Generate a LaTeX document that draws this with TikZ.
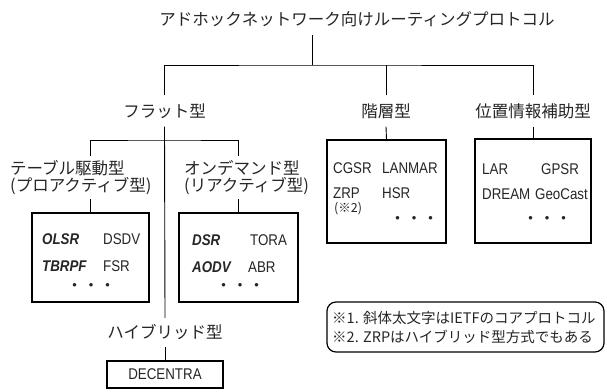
\documentclass[tikz,border=0pt]{standalone}
\usepackage{fontspec}
\setmainfont{Liberation Sans}
\newfontfamily\lat[FakeStretch=0.86]{Liberation Sans}
\newfontfamily\jp{Noto Sans CJK JP}
\begin{document}
\begin{tikzpicture}[x=1pt,y=-1pt,
  ln/.style={line width=0.9pt, draw=black},
  bx/.style={draw=black, line width=1.2pt, inner sep=0pt},
  jl/.style={font=\jp\fontsize{16.5}{17.5}\selectfont, inner sep=0pt, text=black!85},
  lt/.style={font=\lat\fontsize{15.5}{18}\selectfont, inner sep=0pt, anchor=west, text=black!85},
  lb/.style={inner sep=0pt, anchor=west, text=black!85, font=\lat\fontsize{15.5}{18}\selectfont\bfseries\itshape},
  dotrow/.style={font=\jp\fontsize{16.5}{17.5}\selectfont, inner sep=0pt, text=black!85},
  notetext/.style={font=\jp\fontsize{14.5}{19}\selectfont, inner sep=0pt, anchor=west, text=black!85}]
\fill[white] (0,0) rectangle (607,391);
\useasboundingbox (0,0) rectangle (607,391);

% title and first level
\node[jl, minimum height=32pt] (title) at (357,19) {アドホックネットワーク向けルーティングプロトコル};
\coordinate (j0) at (312,65);
\node[jl, minimum height=31pt] (flat) at (164.5,111) {フラット型};
\node[jl, minimum height=31pt] (hier) at (386,111) {階層型};
\node[jl, minimum height=31pt] (pos) at (533,111) {位置情報補助型};

% boxes
\node[bx, minimum width=119pt, minimum height=103pt] (hbox) at (386.5,191.5) {};
\node[bx, minimum width=116pt, minimum height=104pt] (pbox) at (533,191) {};
\node[bx, minimum width=117pt, minimum height=89pt] (tbox) at (90.5,257.5) {};
\node[bx, minimum width=119pt, minimum height=89pt] (obox) at (238.5,257.5) {};
\node[bx, font=\lat\fontsize{15.5}{18}\selectfont, text=black!85, minimum width=116pt, minimum height=27pt] (dbox) at (165,374.5) {DECENTRA};

% second level labels
\coordinate (j1) at (164.5,140);
\node[jl, align=left, anchor=west, minimum height=43pt] (tbl) at (10,177.5) {テーブル駆動型\\(プロアクティブ型)};
\node[jl, align=left, anchor=west, minimum height=43pt] (ond) at (184,177.5) {オンデマンド型\\(リアクティブ型)};
\node[jl, minimum height=29pt] (hyb) at (165,332.5) {ハイブリッド型};

% connectors
\draw[ln] (j0 |- title.south) -- (j0);
\draw[ln] (flat.north) |- (j0) -| (pos.north);
\draw[ln] (hier.north) -- (hier.north |- j0);
\draw[ln] (hier.south) -- (hbox.north);
\draw[ln] (pos.south) -- (pbox.north);
\draw[ln] (flat.south) -- (hyb.north);
\draw[ln] (tbl.north -| tbox.north) |- (j1) -| (ond.north -| obox.north);
\draw[ln] (tbl.south -| tbox.north) -- (tbox.north);
\draw[ln] (ond.south -| obox.north) -- (obox.north);
\draw[ln] (hyb.south) -- (dbox.north);

% table-driven box
\node[lb] (olsr) at (42,239) {OLSR};
\node[lt] (dsdv) at (103,239) {DSDV};
\node[lb] (tbrpf) at (42,266) {TBRPF};
\node[lt] (fsr) at (103,266) {FSR};
\node[dotrow] (d1) at (91,287) {・・・};

% on-demand box
\node[lb] (dsr) at (192,240) {DSR};
\node[lt] (tora) at (250,240) {TORA};
\node[lb] (aodv) at (192,267) {AODV};
\node[lt] (abr) at (248,267) {ABR};
\node[dotrow] (d2) at (240,287) {・・・};

% hierarchical box
\node[lt] (cgsr) at (333,168) {CGSR};
\node[lt] (lanmar) at (382,168) {LANMAR};
\node[lt] (zrp) at (333,193) {ZRP};
\node[lt] (hsr) at (382,193) {HSR};
\node[inner sep=0pt, anchor=west, text=black!85, font=\jp\fontsize{12.5}{14}\selectfont] (zrpn) at (334,209) {(※2)};
\node[dotrow] (d3) at (414,220) {・・・};

% position box
\node[lt] (lar) at (482,169) {LAR};
\node[lt] (gpsr) at (541,169) {GPSR};
\node[lt] (dream) at (482,194) {DREAM};
\node[lt] (geocast) at (535,194) {GeoCast};
\node[dotrow] (d4) at (547,220) {・・・};

% note
\node[draw=black, line width=1.2pt, rounded corners=9pt, inner sep=0pt, minimum width=277pt, minimum height=50pt] (note) at (465.5,327) {};
\node[notetext] (n1) at (332,318) {※1. 斜体太文字はIETFのコアプロトコル};
\node[notetext] (n2) at (332,337) {※2. ZRPはハイブリッド型方式でもある};
\end{tikzpicture}
\end{document}
